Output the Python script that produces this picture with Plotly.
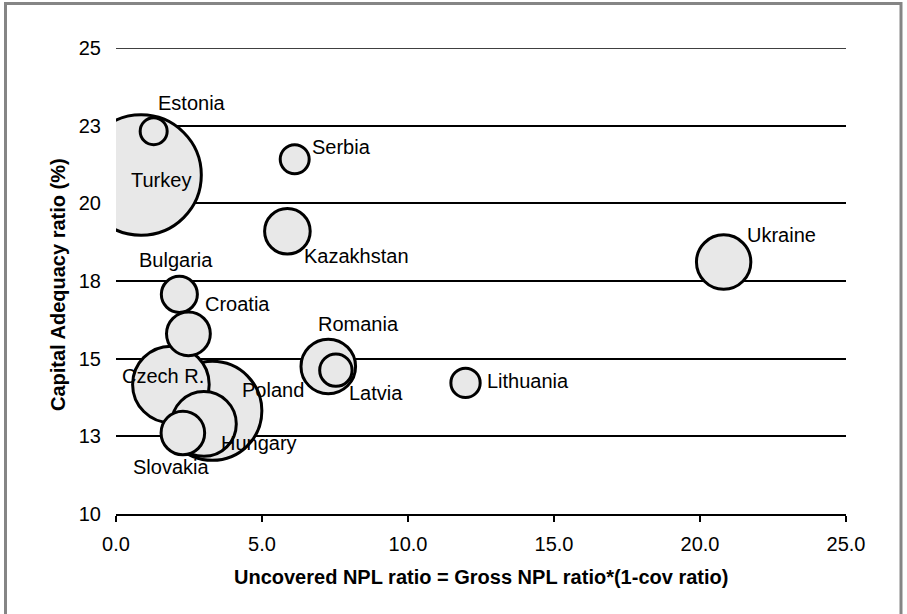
import plotly.graph_objects as go

# ---- data ----
countries = ["Turkey", "Estonia", "Serbia", "Kazakhstan", "Ukraine", "Bulgaria", "Croatia",
             "Czech R.", "Poland", "Hungary", "Slovakia", "Romania", "Latvia", "Lithuania"]
uncovered_npl = [0.86, 1.29, 6.12, 5.87, 20.81, 2.17, 2.48, 1.88, 3.30, 3.01, 2.29, 7.27, 7.53, 11.97]
capital_adequacy = [20.91, 22.32, 21.42, 19.10, 18.11, 17.07, 15.80, 14.17, 13.32, 12.90, 12.61, 14.75, 14.63, 14.22]
bubble_weight = [145, 7.3, 8.4, 20.8, 29.6, 13.0, 19.2, 58.7, 98.0, 42.0, 19.0, 29.8, 10.5, 8.6]

y_tick_vals = [10, 12.5, 15, 17.5, 20, 22.5, 25]
y_tick_text = ["10", "13", "15", "18", "20", "23", "25"]
x_tick_vals = [0, 5, 10, 15, 20, 25]
x_tick_text = ["0.0", "5.0", "10.0", "15.0", "20.0", "25.0"]

x_title = "Uncovered NPL ratio = Gross NPL ratio*(1-cov ratio)"
y_title = "Capital Adequacy ratio (%)"

# ---- label offsets (px) : style only ----
label_offset = {
    "Turkey": (20, -5), "Estonia": (38, 28), "Serbia": (47, 12), "Kazakhstan": (69, -25),
    "Ukraine": (58, 27), "Bulgaria": (-3, 34), "Croatia": (49, 30), "Czech R.": (-8, 8),
    "Poland": (61, 21), "Hungary": (55, -19), "Slovakia": (-12, -34), "Romania": (30, 42),
    "Latvia": (40, -23), "Lithuania": (62, 2),
}

FONT = "Liberation Sans, Arial, sans-serif"
FS = 20

# draw larger bubbles first
order = sorted(range(len(countries)), key=lambda i: -bubble_weight[i])

fig = go.Figure()
fig.add_trace(go.Scatter(
    x=[uncovered_npl[i] for i in order],
    y=[capital_adequacy[i] for i in order],
    mode="markers",
    marker=dict(
        size=[bubble_weight[i] for i in order],
        sizemode="area",
        sizeref=0.02,
        color="#e8e8e8",
        opacity=1,
        line=dict(color="black", width=3),
    ),
    cliponaxis=True,
    hoverinfo="skip",
    showlegend=False,
))

annotations = []
for c, xv, yv in zip(countries, uncovered_npl, capital_adequacy):
    dx, dy = label_offset[c]
    annotations.append(dict(
        x=xv, y=yv, xref="x", yref="y", text=c, showarrow=False,
        xanchor="center", yanchor="middle", xshift=dx, yshift=dy,
        font=dict(family=FONT, size=FS, color="black"),
    ))

# axis titles
annotations.append(dict(
    x=0.5, y=0, xref="paper", yref="paper", text="<b>" + x_title + "</b>", showarrow=False,
    xanchor="center", yanchor="middle", yshift=-63,
    font=dict(family=FONT, size=FS, color="black"),
))
annotations.append(dict(
    x=0, y=0.5, xref="paper", yref="paper", text="<b>" + y_title + "</b>", showarrow=False,
    xanchor="center", yanchor="middle", xshift=-58, yshift=-4, textangle=-90,
    font=dict(family=FONT, size=FS, color="black"),
))

L, R, T, B = 116, 61, 48, 100
W, H = 907, 614
pw, ph = W - L - R, H - T - B

def px2paper_x(px):
    return (px - L) / pw

def px2paper_y(py):
    return (H - B - py) / ph

fig.add_shape(
    type="rect", xref="paper", yref="paper",
    x0=px2paper_x(5.5), x1=px2paper_x(901), y0=px2paper_y(620), y1=px2paper_y(3.5),
    line=dict(color="#858585", width=3), fillcolor="rgba(0,0,0,0)", layer="below",
)
# top gridline (plotly drops the gridline on the range edge)
fig.add_shape(
    type="line", xref="paper", yref="y", x0=0, x1=1, y0=y_tick_vals[-1], y1=y_tick_vals[-1],
    line=dict(color="black", width=1.5), layer="below",
)

fig.update_layout(
    width=W, height=H,
    margin=dict(l=L, r=R, t=T, b=B),
    paper_bgcolor="white", plot_bgcolor="white",
    font=dict(family=FONT, size=FS, color="black"),
    annotations=annotations,
    xaxis=dict(
        range=[0, 25], tickvals=x_tick_vals, ticktext=x_tick_text,
        showgrid=False, zeroline=False,
        showline=True, linecolor="black", linewidth=1.5,
        ticks="outside", ticklen=6, tickwidth=1.5, tickcolor="black",
        ticklabelstandoff=5,
        tickfont=dict(family=FONT, size=FS, color="black"),
    ),
    yaxis=dict(
        range=[10, 25], tickvals=y_tick_vals, ticktext=y_tick_text,
        showgrid=True, gridcolor="black", gridwidth=1.5, zeroline=False,
        showline=False, ticks="", ticklabelstandoff=14,
        tickfont=dict(family=FONT, size=FS, color="black"),
    ),
)

fig.write_html(
    "out.html",
    config={"displayModeBar": False},
    post_script="document.body.style.margin='0px';document.body.style.overflow='hidden';",
)
